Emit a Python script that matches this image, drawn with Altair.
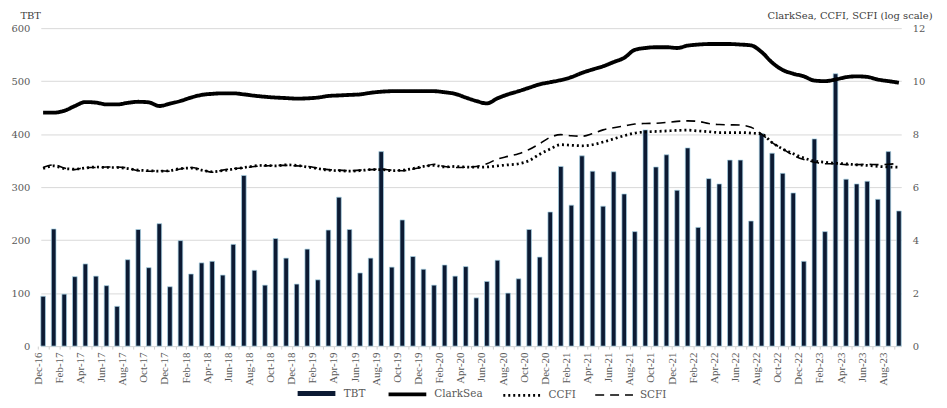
import altair as alt
import pandas as pd

months = [
    "Dec-16",
    "Jan-17", "Feb-17", "Mar-17", "Apr-17", "May-17", "Jun-17", "Jul-17", "Aug-17", "Sep-17", "Oct-17", "Nov-17", "Dec-17",
    "Jan-18", "Feb-18", "Mar-18", "Apr-18", "May-18", "Jun-18", "Jul-18", "Aug-18", "Sep-18", "Oct-18", "Nov-18", "Dec-18",
    "Jan-19", "Feb-19", "Mar-19", "Apr-19", "May-19", "Jun-19", "Jul-19", "Aug-19", "Sep-19", "Oct-19", "Nov-19", "Dec-19",
    "Jan-20", "Feb-20", "Mar-20", "Apr-20", "May-20", "Jun-20", "Jul-20", "Aug-20", "Sep-20", "Oct-20", "Nov-20", "Dec-20",
    "Jan-21", "Feb-21", "Mar-21", "Apr-21", "May-21", "Jun-21", "Jul-21", "Aug-21", "Sep-21", "Oct-21", "Nov-21", "Dec-21",
    "Jan-22", "Feb-22", "Mar-22", "Apr-22", "May-22", "Jun-22", "Jul-22", "Aug-22", "Sep-22", "Oct-22", "Nov-22", "Dec-22",
    "Jan-23", "Feb-23", "Mar-23", "Apr-23", "May-23", "Jun-23", "Jul-23", "Aug-23", "Sep-23",
]

# months that carry a tick label (every second month)
label_months = [
    "Dec-16", "Feb-17", "Apr-17", "Jun-17", "Aug-17", "Oct-17",
    "Dec-17", "Feb-18", "Apr-18", "Jun-18", "Aug-18", "Oct-18",
    "Dec-18", "Feb-19", "Apr-19", "Jun-19", "Aug-19", "Oct-19",
    "Dec-19", "Feb-20", "Apr-20", "Jun-20", "Aug-20", "Oct-20",
    "Dec-20", "Feb-21", "Apr-21", "Jun-21", "Aug-21", "Oct-21",
    "Dec-21", "Feb-22", "Apr-22", "Jun-22", "Aug-22", "Oct-22",
    "Dec-22", "Feb-23", "Apr-23", "Jun-23", "Aug-23",
]

tbt = [
    94,
    221, 98, 131, 155, 132, 114, 75, 163, 220, 148, 231, 112,
    199, 136, 157, 160, 134, 192, 322, 143, 115, 203, 166, 117,
    183, 125, 219, 281, 220, 138, 166, 367, 149, 238, 169, 145,
    115, 153, 132, 150, 91, 122, 162, 100, 127, 220, 168, 253,
    339, 266, 359, 330, 264, 329, 287, 216, 408, 338, 361, 294,
    374, 224, 316, 306, 351, 351, 236, 401, 364, 326, 289, 160,
    391, 216, 514, 315, 306, 311, 277, 367, 255,
]

clarksea = [
    8.81,
    8.81, 8.88, 9.06, 9.21, 9.19, 9.12, 9.12, 9.18, 9.22, 9.20, 9.06, 9.15,
    9.25, 9.38, 9.48, 9.52, 9.54, 9.54, 9.50, 9.45, 9.41, 9.38, 9.36, 9.34,
    9.35, 9.38, 9.44, 9.46, 9.48, 9.50, 9.56, 9.60, 9.62, 9.62, 9.62, 9.62,
    9.62, 9.58, 9.52, 9.38, 9.25, 9.16, 9.35, 9.50, 9.62, 9.75, 9.88, 9.96,
    10.04, 10.15, 10.31, 10.44, 10.56, 10.72, 10.88, 11.18, 11.25, 11.28, 11.28, 11.25,
    11.34, 11.38, 11.40, 11.40, 11.40, 11.38, 11.35, 11.10, 10.70, 10.42, 10.28, 10.18,
    10.02, 10.00, 10.06, 10.15, 10.18, 10.16, 10.06, 10.00, 9.94,
]

ccfi = [
    6.70,
    6.80, 6.70, 6.68, 6.72, 6.76, 6.74, 6.74, 6.70, 6.64, 6.62, 6.60, 6.62,
    6.70, 6.72, 6.64, 6.58, 6.62, 6.68, 6.74, 6.80, 6.82, 6.80, 6.84, 6.82,
    6.76, 6.70, 6.64, 6.62, 6.60, 6.62, 6.66, 6.66, 6.62, 6.64, 6.70, 6.78,
    6.82, 6.76, 6.78, 6.76, 6.75, 6.76, 6.80, 6.84, 6.88, 7.00, 7.24, 7.44,
    7.60, 7.58, 7.56, 7.60, 7.70, 7.82, 7.94, 8.04, 8.08, 8.10, 8.12, 8.14,
    8.15, 8.12, 8.09, 8.06, 8.06, 8.06, 8.04, 8.00, 7.68, 7.44, 7.26, 7.10,
    6.98, 6.94, 6.90, 6.88, 6.84, 6.82, 6.78, 6.76, 6.75,
]

scfi = [
    6.74,
    6.84, 6.72, 6.66, 6.74, 6.74, 6.76, 6.76, 6.72, 6.62, 6.60, 6.62, 6.60,
    6.68, 6.74, 6.66, 6.56, 6.64, 6.70, 6.72, 6.78, 6.80, 6.82, 6.82, 6.80,
    6.78, 6.72, 6.66, 6.64, 6.62, 6.64, 6.66, 6.68, 6.64, 6.62, 6.68, 6.76,
    6.86, 6.78, 6.74, 6.75, 6.78, 6.88, 7.06, 7.16, 7.26, 7.42, 7.64, 7.88,
    7.98, 7.94, 7.92, 8.02, 8.16, 8.24, 8.31, 8.38, 8.40, 8.41, 8.44, 8.48,
    8.50, 8.48, 8.40, 8.36, 8.35, 8.34, 8.26, 8.00, 7.68, 7.44, 7.20, 7.04,
    6.94, 6.88, 6.88, 6.85, 6.85, 6.86, 6.85, 6.86, 6.90,
]

series_order = ["TBT", "ClarkSea", "CCFI", "SCFI"]

df_bar = pd.DataFrame({"month": months, "tbt": tbt})
rows = []
for name, vals in [("ClarkSea", clarksea), ("CCFI", ccfi), ("SCFI", scfi)]:
    for m, v in zip(months, vals):
        rows.append({"month": m, "series": name, "value": v})
df_line = pd.DataFrame(rows)

SERIF = "Liberation Serif"
WIDE = "DejaVu Serif"
LABEL_C = "#595959"
GRID_C = "#d9d9d9"

label_list = "[" + ",".join("'" + m + "'" for m in label_months) + "]"
label_expr = "indexof(" + label_list + ", datum.value) >= 0 ? datum.label : ''"

x_axis = alt.Axis(
    title=None, labelExpr=label_expr, labelAngle=-90, labelFont=SERIF,
    labelFontSize=11, labelColor=LABEL_C, tickSize=3, tickOffset=-5,
    tickColor="#cfcfcf", domainColor=GRID_C, labelPadding=3, grid=False,
    labelOverlap=False,
)
x_scale = alt.Scale(paddingInner=0.56, paddingOuter=0)

bars = alt.Chart(df_bar).mark_bar(
    color="#0c1a33", stroke="#a8d4e6", strokeWidth=0.7
).encode(
    x=alt.X("month:N", sort=months, scale=x_scale, axis=x_axis),
    y=alt.Y(
        "tbt:Q",
        scale=alt.Scale(domain=[0, 600]),
        axis=alt.Axis(
            values=[0, 100, 200, 300, 400, 500, 600], title="TBT", titleAngle=0,
            titleAlign="left", titleBaseline="middle", titleX=-21, titleY=-13,
            titleFont=WIDE, titleFontSize=10, titleFontWeight="normal",
            titleColor="#404040", grid=True, gridColor=GRID_C, domain=False,
            ticks=False, labelPadding=11, labelFont=WIDE, labelFontSize=10,
            labelColor=LABEL_C,
        ),
    ),
)

legend = alt.Legend(
    title=None, orient="none", legendX=256, legendY=346, direction="horizontal",
    symbolType="stroke", symbolSize=1444, labelFont=WIDE,
    labelFontSize=10.5, labelColor=LABEL_C, columnPadding=15, labelOffset=6,
)

lines = alt.Chart(df_line).mark_line(interpolate="monotone").encode(
    x=alt.X("month:N", sort=months, scale=x_scale, axis=x_axis),
    y=alt.Y(
        "value:Q",
        scale=alt.Scale(domain=[0, 12]),
        axis=alt.Axis(
            orient="right", values=[0, 2, 4, 6, 8, 10, 12],
            title="ClarkSea, CCFI, SCFI (log scale)", titleAngle=0,
            titleAlign="right", titleBaseline="middle", titleX=31, titleY=-13,
            titleFont=WIDE, titleFontSize=10, titleFontWeight="normal",
            titleColor="#404040", grid=False, domain=False, ticks=False,
            labelPadding=11, labelFont=WIDE, labelFontSize=10, labelColor=LABEL_C,
        ),
    ),
    color=alt.Color("series:N", scale=alt.Scale(domain=series_order,
                    range=["#0c1a33", "#000000", "#000000", "#000000"]), legend=legend),
    strokeDash=alt.StrokeDash("series:N", scale=alt.Scale(domain=series_order,
                    range=[[1, 0], [1, 0], [2, 3], [9, 6]]), legend=legend),
    strokeWidth=alt.StrokeWidth("series:N", scale=alt.Scale(domain=series_order,
                    range=[5, 1.6, 2, 2.2]), legend=legend),
)

chart = alt.layer(bars, lines).resolve_scale(y="independent").properties(
    width=866, height=320,
    autosize="none",
    padding={"left": 33, "top": 19, "right": 38, "bottom": 53},
).configure_view(stroke=None).configure_legend(
    labelFont=WIDE, labelFontSize=10.5, labelColor=LABEL_C
)

chart.save("out.html", embed_options={"renderer": "svg", "actions": False})
